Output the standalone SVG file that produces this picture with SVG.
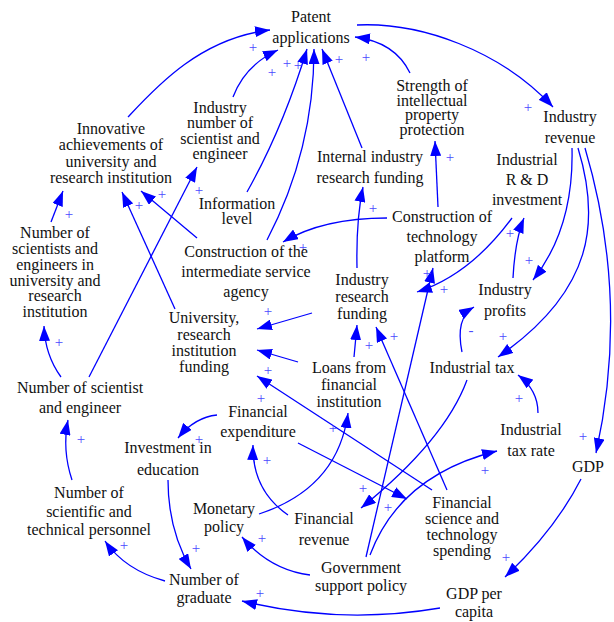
<svg xmlns="http://www.w3.org/2000/svg" width="614" height="622" viewBox="0 0 614 622">
<style>
.n{font-family:"Liberation Serif","Times New Roman",serif;font-size:16px;fill:#111;text-anchor:middle}
.p{font-family:"Liberation Serif","Times New Roman",serif;font-size:15px;fill:#4a4aff;text-anchor:middle}
.c{fill:none;stroke:#0000ff;stroke-width:1.3;marker-end:url(#ah)}
</style>
<defs>
<marker id="ah" markerUnits="userSpaceOnUse" markerWidth="16" markerHeight="11" refX="15" refY="5.5" orient="auto">
<path d="M0,0 L15,5.5 L0,11 z" fill="#0000ff"/>
</marker>
</defs>
<rect width="614" height="622" fill="#fff"/>
<g id="connectors">
<path class="c" d="M128,117 C155,88 200,38 270,30"/>
<path class="c" d="M233,97 Q245,65 278,50"/>
<path class="c" d="M247,192 Q283,128 307,49"/>
<path class="c" d="M267,240 Q314,150 314,49"/>
<path class="c" d="M362,148 L322,49"/>
<path class="c" d="M410,73 Q395,42 355,37"/>
<path class="c" d="M357,25 C420,22 500,50 553,107"/>
<path class="c" d="M438,207 L435,141"/>
<path class="c" d="M387,218 Q323,218 283,242"/>
<path class="c" d="M357,268 Q356,220 363,187"/>
<path class="c" d="M512,218 Q470,275 417,292"/>
<path class="c" d="M513,278 Q515,240 524,218"/>
<path class="c" d="M572,148 Q574,228 533,280"/>
<path class="c" d="M578,148 C600,220 595,290 498,357"/>
<path class="c" d="M585,148 Q630,300 596,453"/>
<path class="c" d="M462,352 Q455,318 474,307"/>
<path class="c" d="M538,413 Q538,390 518,375"/>
<path class="c" d="M467,380 Q445,440 361,508"/>
<path class="c" d="M298,443 L407,499"/>
<path class="c" d="M447,490 L376,327"/>
<path class="c" d="M366,557 L433,268"/>
<path class="c" d="M370,555 Q400,475 497,451"/>
<path class="c" d="M310,575 Q270,570 242,537"/>
<path class="c" d="M440,608 Q340,625 242,601"/>
<path class="c" d="M581,479 Q555,530 505,577"/>
<path class="c" d="M288,515 Q252,490 253,445"/>
<path class="c" d="M259,514 Q338,488 348,413"/>
<path class="c" d="M354,357 L357,325"/>
<path class="c" d="M298,362 L257,350"/>
<path class="c" d="M312,313 L257,329"/>
<path class="c" d="M432,490 L257,376"/>
<path class="c" d="M217,415 Q195,417 178,438"/>
<path class="c" d="M168,480 Q168,530 191,569"/>
<path class="c" d="M165,581 Q125,570 105,541"/>
<path class="c" d="M72,480 Q62,450 68,420"/>
<path class="c" d="M61,377 Q45,355 44,326"/>
<path class="c" d="M89,377 L197,167"/>
<path class="c" d="M51,222 L63,191"/>
<path class="c" d="M175,309 L122,192"/>
<path class="c" d="M197,238 L141,191"/>
</g>
<g id="polarities">
<text class="p" x="253" y="52">+</text>
<text class="p" x="272" y="77">+</text>
<text class="p" x="287" y="68">+</text>
<text class="p" x="298" y="70">+</text>
<text class="p" x="339" y="64">+</text>
<text class="p" x="366" y="62">+</text>
<text class="p" x="528" y="112">+</text>
<text class="p" x="450" y="162">+</text>
<text class="p" x="69" y="219">+</text>
<text class="p" x="139" y="210">+</text>
<text class="p" x="162" y="199">+</text>
<text class="p" x="199" y="195">+</text>
<text class="p" x="373" y="213">+</text>
<text class="p" x="303" y="252">+</text>
<text class="p" x="268" y="316">+</text>
<text class="p" x="510" y="238">+</text>
<text class="p" x="529" y="265">+</text>
<text class="p" x="427" y="278">+</text>
<text class="p" x="444" y="294">+</text>
<text class="p" x="59" y="347">+</text>
<text class="p" x="81" y="444">+</text>
<text class="p" x="199" y="444">+</text>
<text class="p" x="369" y="350">+</text>
<text class="p" x="394" y="341">+</text>
<text class="p" x="268" y="375">+</text>
<text class="p" x="261" y="403">+</text>
<text class="p" x="333" y="433">+</text>
<text class="p" x="267" y="465">+</text>
<text class="p" x="471" y="335">-</text>
<text class="p" x="503" y="341">+</text>
<text class="p" x="519" y="403">+</text>
<text class="p" x="583" y="441">+</text>
<text class="p" x="124" y="550">+</text>
<text class="p" x="196" y="553">+</text>
<text class="p" x="262" y="543">+</text>
<text class="p" x="260" y="598">+</text>
<text class="p" x="363" y="493">+</text>
<text class="p" x="388" y="512">+</text>
<text class="p" x="485" y="475">+</text>
<text class="p" x="506" y="562">+</text>
</g>
<g id="patent"><text class="n"><tspan x="311" y="22">Patent</tspan><tspan x="311" y="43">applications</tspan></text></g>
<g id="innovative"><text class="n"><tspan x="111" y="134">Innovative</tspan><tspan x="111" y="150">achievements of</tspan><tspan x="111" y="167">university and</tspan><tspan x="111" y="183">research institution</tspan></text></g>
<g id="ind-sci"><text class="n"><tspan x="220" y="113">Industry</tspan><tspan x="220" y="128">number of</tspan><tspan x="220" y="144">scientist and</tspan><tspan x="220" y="159">engineer</tspan></text></g>
<g id="strength"><text class="n"><tspan x="432" y="91">Strength of</tspan><tspan x="432" y="105.5">intellectual</tspan><tspan x="432" y="120">property</tspan><tspan x="432" y="134.5">protection</tspan></text></g>
<g id="revenue"><text class="n"><tspan x="570" y="122">Industry</tspan><tspan x="570" y="143">revenue</tspan></text></g>
<g id="internal"><text class="n"><tspan x="370" y="162">Internal industry</tspan><tspan x="370" y="183">research funding</tspan></text></g>
<g id="rd"><text class="n"><tspan x="527" y="165">Industrial</tspan><tspan x="527" y="185">R &amp; D</tspan><tspan x="527" y="205">investment</tspan></text></g>
<g id="info"><text class="n"><tspan x="237" y="209">Information</tspan><tspan x="237" y="224">level</tspan></text></g>
<g id="techplat"><text class="n"><tspan x="442" y="222">Construction of</tspan><tspan x="442" y="242">technology</tspan><tspan x="442" y="262">platform</tspan></text></g>
<g id="intermediate"><text class="n"><tspan x="246" y="257">Construction of the</tspan><tspan x="246" y="277">intermediate service</tspan><tspan x="246" y="297">agency</tspan></text></g>
<g id="univ-sci"><text class="n"><tspan x="55" y="238">Number of</tspan><tspan x="55" y="254">scientists and</tspan><tspan x="55" y="270">engineers in</tspan><tspan x="55" y="285.5">university and</tspan><tspan x="55" y="301">research</tspan><tspan x="55" y="317">institution</tspan></text></g>
<g id="ind-fund"><text class="n"><tspan x="362" y="285">Industry</tspan><tspan x="362" y="302">research</tspan><tspan x="362" y="319">funding</tspan></text></g>
<g id="univ-fund"><text class="n"><tspan x="204" y="323">University,</tspan><tspan x="204" y="340">research</tspan><tspan x="204" y="356">institution</tspan><tspan x="204" y="372">funding</tspan></text></g>
<g id="loans"><text class="n"><tspan x="349" y="373">Loans from</tspan><tspan x="349" y="390">financial</tspan><tspan x="349" y="407">institution</tspan></text></g>
<g id="profits"><text class="n"><tspan x="505" y="295">Industry</tspan><tspan x="505" y="316">profits</tspan></text></g>
<g id="tax"><text class="n" x="472" y="373">Industrial tax</text></g>
<g id="num-sci"><text class="n"><tspan x="80" y="393">Number of scientist</tspan><tspan x="80" y="413">and engineer</tspan></text></g>
<g id="fin-exp"><text class="n"><tspan x="258" y="417">Financial</tspan><tspan x="258" y="437">expenditure</tspan></text></g>
<g id="inv-edu"><text class="n"><tspan x="168" y="453">Investment in</tspan><tspan x="168" y="475">education</tspan></text></g>
<g id="tax-rate"><text class="n"><tspan x="531" y="435">Industrial</tspan><tspan x="531" y="456">tax rate</tspan></text></g>
<g id="gdp"><text class="n" x="588" y="472">GDP</text></g>
<g id="sci-tech"><text class="n"><tspan x="89" y="498">Number of</tspan><tspan x="89" y="517">scientific and</tspan><tspan x="89" y="535">technical personnel</tspan></text></g>
<g id="monetary"><text class="n"><tspan x="224" y="514">Monetary</tspan><tspan x="224" y="532">policy</tspan></text></g>
<g id="fin-rev"><text class="n"><tspan x="324" y="524">Financial</tspan><tspan x="324" y="545">revenue</tspan></text></g>
<g id="fst"><text class="n"><tspan x="462" y="508">Financial</tspan><tspan x="462" y="524">science and</tspan><tspan x="462" y="540">technology</tspan><tspan x="462" y="556">spending</tspan></text></g>
<g id="gov"><text class="n"><tspan x="361" y="573">Government</tspan><tspan x="361" y="591">support policy</tspan></text></g>
<g id="graduate"><text class="n"><tspan x="204" y="585">Number of</tspan><tspan x="204" y="603">graduate</tspan></text></g>
<g id="gdppc"><text class="n"><tspan x="474" y="599">GDP per</tspan><tspan x="474" y="617">capita</tspan></text></g>
</svg>
